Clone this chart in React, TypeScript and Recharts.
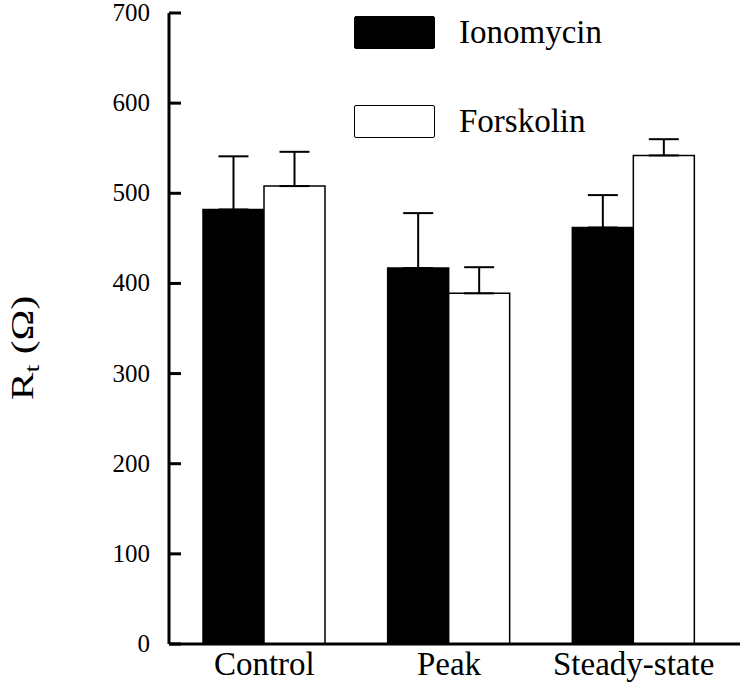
import { Bar, BarChart, ErrorBar, Legend, XAxis, YAxis } from "recharts";

const categories = ["Control", "Peak", "Steady-state"];
const ionomycin = [482, 417, 462];
const ionomycinErr = [59, 61, 36];
const forskolin = [508, 389, 542];
const forskolinErr = [38, 29, 18];
const yTicks = [0, 100, 200, 300, 400, 500, 600, 700];
const seriesOrder = ["Ionomycin", "Forskolin"];

const data = categories.map((name, i) => ({
  name,
  iono: ionomycin[i],
  ionoErr: [0, ionomycinErr[i]],
  fors: forskolin[i],
  forsErr: [0, forskolinErr[i]]
}));

const FONT = "Liberation Serif";
const AXIS_X = 169;

function YTick(props: any) {
  const { y, payload } = props;
  return (
    <g>
      <line x1={AXIS_X} x2={AXIS_X + 12} y1={y} y2={y} stroke="#000" strokeWidth={3} />
      <text x={AXIS_X - 19} y={y} dy={8} textAnchor="end" fontFamily={FONT} fontSize={25} fill="#000">
        {payload.value}
      </text>
    </g>
  );
}

function XTick(props: any) {
  const { x, y, payload } = props;
  return (
    <text x={x} y={y} dy={31} textAnchor="middle" fontFamily={FONT} fontSize={33} fill="#000">
      {payload.value}
    </text>
  );
}

function YLabel() {
  return (
    <text
      transform="translate(33,348) rotate(-90) scale(1.3,1)"
      textAnchor="middle"
      fontFamily={FONT}
      fontSize={32}
      fill="#000"
    >
      <tspan>R</tspan>
      <tspan fontSize={22} dy={6}>t</tspan>
      <tspan dy={-6}> (Ω)</tspan>
    </text>
  );
}

function LegendBox(props: any) {
  const items = [...(props.payload || [])].sort(
    (a: any, b: any) => seriesOrder.indexOf(a.value) - seriesOrder.indexOf(b.value)
  );
  return (
    <div style={{ fontFamily: FONT }}>
      {items.map((it: any, i: number) => (
        <div key={i} style={{ display: "flex", alignItems: "center", height: 33, marginBottom: i === 0 ? 56 : 0 }}>
          <div
            style={{
              width: 79,
              height: 31,
              background: it.color,
              border: "1.5px solid #000",
              borderRadius: 2
            }}
          />
          <span style={{ fontFamily: FONT, fontSize: 33, marginLeft: 24, color: "#000", lineHeight: "33px" }}>
            {it.value}
          </span>
        </div>
      ))}
    </div>
  );
}

export default function App() {
  return (
    <div style={{ position: "absolute", left: 0, top: 0, width: 750, height: 688, background: "#fff", fontFamily: FONT }}>
      <BarChart
        width={750}
        height={688}
        data={data}
        margin={{ top: 13, right: 10, bottom: 0, left: 59 }}
        barGap={0}
      >
        <XAxis
          dataKey="name"
          height={44}
          tickLine={false}
          tickSize={0}
          tickMargin={0}
          axisLine={{ stroke: "#000", strokeWidth: 3 }}
          padding={{ left: 3, right: 14 }}
          tick={<XTick />}
        />
        <YAxis
          width={110}
          domain={[0, 700]}
          ticks={yTicks}
          tickLine={false}
          axisLine={{ stroke: "#000", strokeWidth: 3 }}
          tick={<YTick />}
          label={{ content: () => <YLabel /> }}
        />
        <Legend
          layout="vertical"
          align="center"
          verticalAlign="middle"
          content={<LegendBox />}
          wrapperStyle={{ left: 354, top: 16, width: 360 }}
        />
        <Bar dataKey="iono" name="Ionomycin" fill="#000" stroke="#000" strokeWidth={1.5} barSize={61} isAnimationActive={false}>
          <ErrorBar dataKey="ionoErr" width={15} stroke="#000" strokeWidth={2} isAnimationActive={false} />
        </Bar>
        <Bar dataKey="fors" name="Forskolin" fill="#fff" stroke="#000" strokeWidth={1.5} barSize={61} isAnimationActive={false}>
          <ErrorBar dataKey="forsErr" width={15} stroke="#000" strokeWidth={2} isAnimationActive={false} />
        </Bar>
      </BarChart>
    </div>
  );
}
